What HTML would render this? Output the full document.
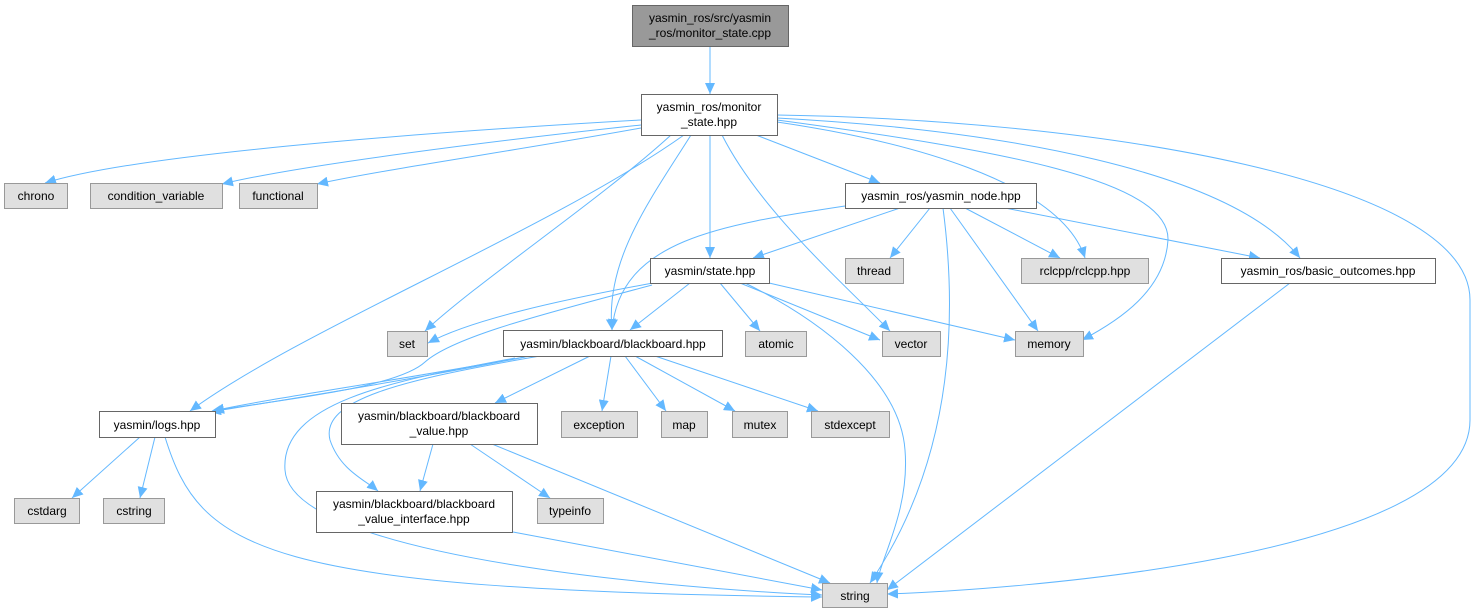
<!DOCTYPE html>
<html><head><meta charset="utf-8"><style>
html,body{margin:0;padding:0;background:#fff;}
svg{display:block;}
text{font-family:"Liberation Sans",Arial,sans-serif;font-size:12px;fill:#000;}
.n{fill:#fff;stroke:#666;stroke-width:1;}
.g{fill:#e0e0e0;stroke:#999;stroke-width:1;}
.e{fill:none;stroke:#63b8ff;stroke-width:1;marker-end:url(#a);}
</style></head><body>
<svg width="1477" height="612" viewBox="0 0 1477 612" xmlns="http://www.w3.org/2000/svg">
<defs><marker id="a" markerUnits="userSpaceOnUse" markerWidth="12" markerHeight="10" refX="11" refY="5" orient="auto"><path d="M0,0 L11,5 L0,10 z" fill="#63b8ff"/></marker></defs>
<g>
<path class="e" d="M710,46 L710,94"/>
<path class="e" d="M641,120 C500,128 150,150 45,183"/>
<path class="e" d="M641,125 C500,140 300,165 222,184"/>
<path class="e" d="M641,128 C520,150 380,170 317,184"/>
<path class="e" d="M756,135 L880,183"/>
<path class="e" d="M710,135 L710,258"/>
<path class="e" d="M691,135 C650,200 605,260 612,330"/>
<path class="e" d="M671,135 C600,200 480,280 425,331"/>
<path class="e" d="M684,135 C550,230 300,330 190,411"/>
<path class="e" d="M722,135 C760,210 840,280 890,331"/>
<path class="e" d="M777,122 C900,140 1060,180 1085,258"/>
<path class="e" d="M777,120 C1000,150 1170,180 1168,240 C1165,290 1120,320 1082,340"/>
<path class="e" d="M777,118 C1000,130 1230,170 1300,258"/>
<path class="e" d="M777,115 C1100,120 1470,180 1470,300 L1470,420 C1470,560 1000,590 887,594"/>
<path class="e" d="M900,208 L753,258"/>
<path class="e" d="M845,206 C720,225 620,240 612,330"/>
<path class="e" d="M930,208 L890,258"/>
<path class="e" d="M965,208 L1060,258"/>
<path class="e" d="M950,208 L1038,331"/>
<path class="e" d="M1005,208 L1260,258"/>
<path class="e" d="M943,208 C955,300 960,450 870,583"/>
<path class="e" d="M653,283 C560,300 470,320 428,343"/>
<path class="e" d="M652,285 C560,310 455,335 425,362 C395,390 260,402 213,411"/>
<path class="e" d="M690,283 L630,330"/>
<path class="e" d="M720,283 L760,331"/>
<path class="e" d="M740,283 L880,340"/>
<path class="e" d="M769,283 L1015,340"/>
<path class="e" d="M745,283 C820,320 900,380 905,450 C910,510 880,560 877,583"/>
<path class="e" d="M530,356 C400,380 260,400 213,411"/>
<path class="e" d="M525,357 C400,382 270,402 210,412"/>
<path class="e" d="M590,356 L495,403"/>
<path class="e" d="M540,356 C400,380 320,400 330,440 C340,470 365,480 378,491"/>
<path class="e" d="M515,358 C400,380 280,400 285,470 C290,560 700,590 822,595"/>
<path class="e" d="M611,356 L602,411"/>
<path class="e" d="M625,356 L666,411"/>
<path class="e" d="M635,356 L735,411"/>
<path class="e" d="M655,356 L818,411"/>
<path class="e" d="M140,437 L72,498"/>
<path class="e" d="M155,437 L140,498"/>
<path class="e" d="M165,437 C200,550 260,590 822,597"/>
<path class="e" d="M433,444 L420,491"/>
<path class="e" d="M470,444 L550,498"/>
<path class="e" d="M492,444 L830,583"/>
<path class="e" d="M513,532 L822,590"/>
<path class="e" d="M1290,283 L887,590"/>
</g>
<g text-anchor="middle">
<rect x="632.5" y="5.5" width="156" height="41" fill="#999" stroke="#666"/>
<text x="710" y="22">yasmin_ros/src/yasmin</text><text x="710" y="37">_ros/monitor_state.cpp</text>
<rect class="n" x="641.5" y="94.5" width="136" height="41"/>
<text x="709" y="111">yasmin_ros/monitor</text><text x="709" y="126">_state.hpp</text>
<rect class="g" x="4.5" y="183.5" width="63" height="25"/><text x="36" y="200">chrono</text>
<rect class="g" x="90.5" y="183.5" width="132" height="25"/><text x="156" y="200">condition_variable</text>
<rect class="g" x="239.5" y="183.5" width="78" height="25"/><text x="278" y="200">functional</text>
<rect class="n" x="845.5" y="183.5" width="191" height="25"/><text x="941" y="200">yasmin_ros/yasmin_node.hpp</text>
<rect class="n" x="650.5" y="258.5" width="119" height="25"/><text x="710" y="275">yasmin/state.hpp</text>
<rect class="g" x="845.5" y="258.5" width="58" height="25"/><text x="874" y="275">thread</text>
<rect class="g" x="1021.5" y="258.5" width="127" height="25"/><text x="1085" y="275">rclcpp/rclcpp.hpp</text>
<rect class="n" x="1221.5" y="258.5" width="214" height="25"/><text x="1328" y="275">yasmin_ros/basic_outcomes.hpp</text>
<rect class="g" x="387.5" y="331.5" width="40" height="25"/><text x="407" y="348">set</text>
<rect class="n" x="503.5" y="330.5" width="219" height="26"/><text x="613" y="348">yasmin/blackboard/blackboard.hpp</text>
<rect class="g" x="745.5" y="331.5" width="61" height="25"/><text x="776" y="348">atomic</text>
<rect class="g" x="882.5" y="331.5" width="58" height="25"/><text x="911" y="348">vector</text>
<rect class="g" x="1015.5" y="331.5" width="68" height="25"/><text x="1049" y="348">memory</text>
<rect class="n" x="99.5" y="411.5" width="116" height="26"/><text x="157" y="429">yasmin/logs.hpp</text>
<rect class="n" x="341.5" y="403.5" width="196" height="41"/>
<text x="439" y="420">yasmin/blackboard/blackboard</text><text x="439" y="435">_value.hpp</text>
<rect class="g" x="561.5" y="411.5" width="76" height="26"/><text x="599" y="429">exception</text>
<rect class="g" x="661.5" y="411.5" width="46" height="26"/><text x="684" y="429">map</text>
<rect class="g" x="732.5" y="411.5" width="55" height="26"/><text x="760" y="429">mutex</text>
<rect class="g" x="811.5" y="411.5" width="78" height="26"/><text x="850" y="429">stdexcept</text>
<rect class="g" x="14.5" y="498.5" width="65" height="25"/><text x="47" y="515">cstdarg</text>
<rect class="g" x="103.5" y="498.5" width="61" height="25"/><text x="134" y="515">cstring</text>
<rect class="n" x="316.5" y="491.5" width="196" height="41"/>
<text x="414" y="508">yasmin/blackboard/blackboard</text><text x="414" y="523">_value_interface.hpp</text>
<rect class="g" x="537.5" y="498.5" width="66" height="25"/><text x="570" y="515">typeinfo</text>
<rect class="g" x="822.5" y="583.5" width="65" height="24"/><text x="855" y="600">string</text>
</g>
</svg>
</body></html>
